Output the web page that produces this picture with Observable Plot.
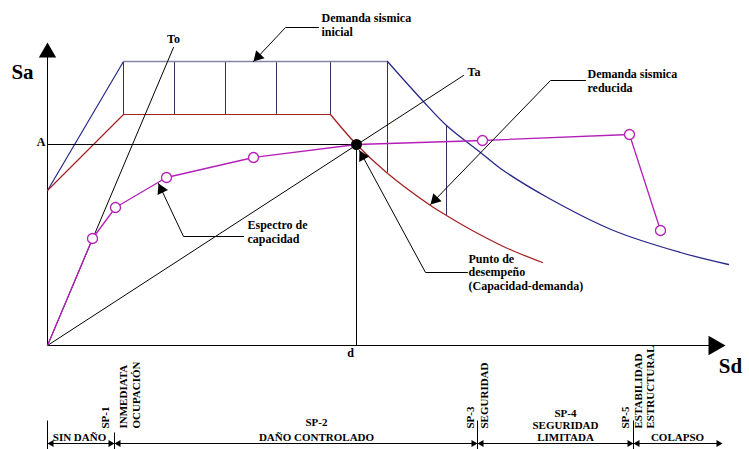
<!DOCTYPE html>
<html>
<head>
<meta charset="utf-8">
<script src="https://cdn.jsdelivr.net/npm/d3@7"></script>
<script src="https://cdn.jsdelivr.net/npm/@observablehq/plot@0.6"></script>
<style>
  html, body { margin: 0; padding: 0; background: #fff; }
</style>
</head>
<body>
<div id="chart"></div>
<script>
// Espectro de capacidad vs. demanda sísmica (formato ADRS: Sd en x, Sa en y)

// Demanda sísmica inicial: rama ascendente + meseta, y rama descendente
const demandaInicialMeseta = [[0, 15.5], [7.6, 28.4], [34, 28.4]];
const demandaInicialCurva = [[34, 28.4], [37.5, 24.5], [39.9, 22], [43.3, 19.3], [45.3, 17.7],
  [50, 14.8], [56.6, 11.5], [63.3, 9.3], [68.1, 8.1]];

// Demanda sísmica reducida
const demandaReducidaMeseta = [[0, 15.5], [7.6, 23.1], [28.3, 23.1]];
const demandaReducidaCurva = [[28.3, 23.1], [30.9, 20.1], [33.9, 17.3], [38.3, 14], [39.9, 13],
  [42.3, 11.6], [45.8, 9.8], [49.5, 8.3]];

// Líneas verticales entre ambas demandas [Sd, Sa superior, Sa inferior]
const reductoras = [[7.6, 28.4, 23.1], [12.7, 28.4, 23.1], [17.8, 28.4, 23.1], [22.9, 28.4, 23.1],
  [28.3, 28.4, 23.1], [34, 28.4, 17.3], [39.9, 22, 13]];

// Espectro de capacidad (puntos de la curva)
const capacidad = [[0, 0], [4.5, 10.7], [6.8, 13.8], [11.9, 16.8], [20.6, 18.8], [30.9, 20.1],
  [43.5, 20.5], [58.2, 21.1], [61.3, 11.5]];
const capacidadMarcados = [1, 2, 3, 4, 6, 7, 8];

// Punto de desempeño (d, A)
const desempeno = {d: 30.9, A: 20.1};

// Rectas de periodo
const periodoTo = [[0, 0], [12.6, 29.8]];
const periodoTa = [[0, 0], [41.6, 27]];

// Llamadas con flecha (la última coordenada es la punta)
const llamadas = [
  {id: "inicial", pts: [[27.1, 31.8], [23.8, 31.8], [20.6, 28.4]]},
  {id: "reducida", pts: [[53.8, 26.5], [50.3, 26.5], [38.3, 14.1]]},
  {id: "espectro", pts: [[19.6, 10.9], [13.6, 10.9], [11.1, 16.2]]},
  {id: "punto", pts: [[42, 7.3], [37.8, 7.3], [31.2, 19.5]]}
];
const textosLlamadas = [
  {x: 27.4, y: 31.0, t: "Demanda sismica\ninicial"},
  {x: 54.0, y: 25.4, t: "Demanda sismica\nreducida"},
  {x: 20.0, y: 10.3, t: "Espectro de\ncapacidad"},
  {x: 42.1, y: 5.6, t: "Punto de\ndesempeño\n(Capacidad-demanda)"}
];

// Niveles de desempeño (bajo el eje Sd)
const nivelY = -9.8;
const limitesNivel = [0, 6.7, 43, 58.6];
const limitesAltura = [-7.5, -8.7, -7.5, -7.5];
const nivelFin = 67.5;
const tramos = [
  {x: 3.2, t: "SIN DAÑO", lh: 1.3},
  {x: 26.9, t: "SP-2\nDAÑO CONTROLADO", lh: 1.35},
  {x: 51.8, t: "SP-4\nSEGURIDAD\nLIMITADA", lh: 1.08},
  {x: 63.0, t: "COLAPSO", lh: 1.3}
];
const rotulos = [
  {x: 5.8, t: "SP-1"}, {x: 7.6, t: "INMEDIATA"}, {x: 8.9, t: "OCUPACIÓN"},
  {x: 42.3, t: "SP-3"}, {x: 43.7, t: "SEGURIDAD"},
  {x: 57.8, t: "SP-5"}, {x: 59.1, t: "ESTABILIDAD"}, {x: 60.3, t: "ESTRUCTURAL"}
];

// Ejes (la última coordenada es la punta de la flecha)
const ejeSa = [[0, 0], [0, 29]];
const ejeSd = [[0, 0], [66.5, 0]];
const puntaSa = [0, 30.3];
const puntaSd = [67.8, 0];

// --- utilidades de dibujo ---
const PX = 10; // px por unidad en ambos ejes
function triR(h) { const a = h / 3; return Math.sqrt(3 * Math.sqrt(3) * a * a / Math.PI); }
function punta(p0, p1, h) {
  const dx = p1[0] - p0[0], dy = -(p1[1] - p0[1]);
  const L = Math.hypot(dx, dy);
  const off = (2 / 3) * h / PX;
  return {x: p1[0] - dx / L * off, y: p1[1] + dy / L * off,
          rotate: Math.atan2(dy, dx) * 180 / Math.PI + 90, r: triR(h)};
}

const puntas = llamadas.map(l => punta(l.pts[l.pts.length - 2], l.pts[l.pts.length - 1], 10));
puntas.push(punta([0, 0], puntaSa, 15));
puntas.push(punta([0, 0], puntaSd, 17));

// puntas pequeñas de la línea de niveles
const puntasNivel = [];
limitesNivel.forEach((x, i) => {
  if (i > 0) puntasNivel.push(punta([x - 1, nivelY], [x, nivelY], 6));
  puntasNivel.push(punta([x + 1, nivelY], [x, nivelY], 6));
});
puntasNivel.push(punta([nivelFin - 1, nivelY], [nivelFin, nivelY], 6));

const filasLlamadas = llamadas.flatMap(l => l.pts.map(p => ({id: l.id, x: p[0], y: p[1]})));

const font = "Liberation Serif";
const azul = "#27278a", rojo = "#a52222", magenta = "#b41fb8";

const chart = Plot.plot({
  width: 749,
  height: 449,
  margin: 0,
  x: {domain: [0, 67.5], range: [47, 722], axis: null},
  y: {domain: [0, 30], range: [345, 45], axis: null},
  r: {type: "identity"},
  style: {fontFamily: font, background: "#fff", overflow: "visible"},
  marks: [
    // ejes
    Plot.line(ejeSa, {stroke: "black", strokeWidth: 1}),
    Plot.line(ejeSd, {stroke: "black", strokeWidth: 1}),
    // líneas verticales de reducción
    Plot.link(reductoras, {x1: d => d[0], x2: d => d[0], y1: d => d[1], y2: d => d[2], stroke: "#303060", strokeWidth: 1}),
    // demanda inicial
    Plot.line(demandaInicialMeseta.slice(0, 2), {stroke: azul, strokeWidth: 1.2}),
    Plot.line(demandaInicialMeseta.slice(1), {stroke: "#8585a3", strokeWidth: 1.3}),
    Plot.line(demandaInicialCurva, {stroke: azul, strokeWidth: 1.3, curve: "catmull-rom"}),
    // demanda reducida
    Plot.line(demandaReducidaMeseta, {stroke: rojo, strokeWidth: 1.2}),
    Plot.line(demandaReducidaCurva, {stroke: rojo, strokeWidth: 1.3, curve: "catmull-rom"}),
    // rectas de periodo y referencias A, d
    Plot.line(periodoTo, {stroke: "black", strokeWidth: 1}),
    Plot.line(periodoTa, {stroke: "black", strokeWidth: 1}),
    Plot.ruleY([desempeno.A], {x1: 0, x2: desempeno.d, stroke: "black", strokeWidth: 1}),
    Plot.ruleX([desempeno.d], {y1: 0, y2: desempeno.A, stroke: "black", strokeWidth: 1}),
    // espectro de capacidad
    Plot.line(capacidad, {stroke: magenta, strokeWidth: 1.3}),
    Plot.dot(capacidadMarcados.map(i => capacidad[i]), {r: 5, fill: "white", stroke: magenta, strokeWidth: 1.3}),
    Plot.dot([desempeno], {x: "d", y: "A", r: 5.5, fill: "black"}),
    // llamadas
    Plot.line(filasLlamadas, {x: "x", y: "y", z: "id", stroke: "black", strokeWidth: 1}),
    Plot.dot(puntas, {x: "x", y: "y", r: "r", rotate: "rotate", symbol: "triangle", fill: "black"}),
    Plot.text(textosLlamadas, {x: "x", y: "y", text: "t", textAnchor: "start", lineAnchor: "bottom",
      fontSize: 12, fontWeight: "bold", lineHeight: 1.12, fill: "black"}),
    // rótulos de ejes y puntos
    Plot.text(["Sa"], {x: -2.5, y: 27.3, text: d => d, fontSize: 21, fontWeight: "bold", fill: "black"}),
    Plot.text(["Sd"], {x: 68.3, y: -2.1, text: d => d, fontSize: 21, fontWeight: "bold", fill: "black"}),
    Plot.text(["To"], {x: 12.6, y: 30.6, text: d => d, fontSize: 12, fontWeight: "bold", fill: "black"}),
    Plot.text(["Ta"], {x: 42, y: 27.3, text: d => d, textAnchor: "start", fontSize: 12, fontWeight: "bold", fill: "black"}),
    Plot.text(["A"], {x: -0.2, y: 20.3, text: d => d, textAnchor: "end", fontSize: 12, fontWeight: "bold", fill: "black"}),
    Plot.text(["d"], {x: 30.3, y: -0.8, text: d => d, fontSize: 12, fontWeight: "bold", fill: "black"}),
    // niveles de desempeño
    Plot.ruleY([nivelY], {x1: 0, x2: nivelFin, stroke: "black", strokeWidth: 1}),
    Plot.link(limitesNivel, {x1: d => d, x2: d => d, y1: (d, i) => limitesAltura[i], y2: -10.4, stroke: "black", strokeWidth: 1}),
    Plot.dot(puntasNivel, {x: "x", y: "y", r: "r", rotate: "rotate", symbol: "triangle", fill: "black"}),
    ...tramos.map(t => Plot.text([t], {x: "x", y: -9.5, text: "t", lineAnchor: "bottom", lineHeight: t.lh,
      fontSize: 11, fontWeight: "bold", fill: "black"})),
    Plot.text(rotulos, {x: "x", y: -8.3, text: "t", rotate: -90, textAnchor: "start", fontSize: 11, fontWeight: "bold", fill: "black"})
  ]
});
document.getElementById("chart").appendChild(chart);
</script>
</body>
</html>
